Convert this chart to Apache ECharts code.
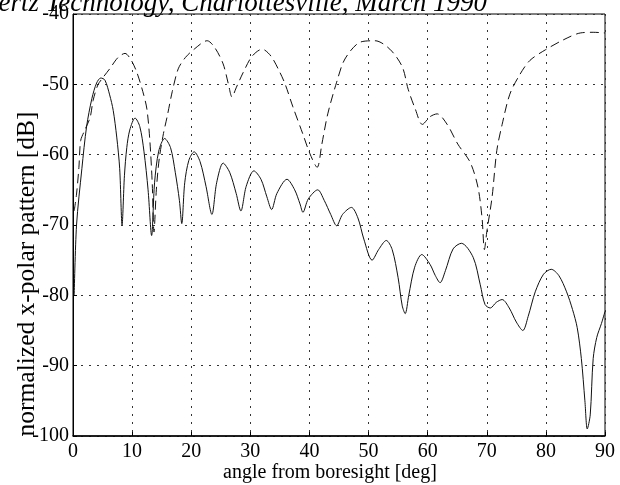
<!DOCTYPE html>
<html><head><meta charset="utf-8">
<script src="https://cdn.jsdelivr.net/npm/echarts@6/dist/echarts.min.js"></script>
<style>html,body{margin:0;padding:0;background:#fff}#c{width:620px;height:485px}</style>
</head><body><div id="c"></div>
<script>
// x-polar pattern, solid (lower) curve
const solidAngle = [0.2,0.6,1.5,2.3,3.2,4.0,4.7,5.4,6.2,6.8,7.4,7.9,8.3,8.7,9.1,9.6,10.5,11.3,12.0,12.7,13.3,13.8,14.5,15.5,16.5,17.3,18.0,18.4,18.9,19.6,20.5,21.5,22.5,23.5,24.3,25.4,26.5,27.6,28.4,29.3,30.6,31.8,32.8,33.6,34.5,36.2,37.5,38.4,38.9,39.8,41.4,42.5,43.6,44.6,45.6,47.1,48.2,49.2,50.6,51.7,53.0,54.0,55.0,55.7,56.2,56.8,57.8,59.0,60.4,61.3,62.1,63.0,64.3,65.7,67.7,68.9,69.7,70.6,71.6,72.6,73.8,75.0,76.1,77.0,78.2,79.6,80.9,82.2,83.5,84.5,85.3,86.0,86.6,87.0,87.5,88.0,88.6,89.4,90.0];
const solidDb = [-80,-70,-62,-56,-52,-49.8,-49.1,-49.4,-51.5,-53.7,-57.5,-62,-70,-63,-59,-56.5,-54.8,-56,-59.5,-65,-71.5,-64,-59.5,-57.7,-59,-62.5,-66.5,-69.8,-64,-60.8,-59.6,-61,-64.5,-68.5,-64,-61.2,-62.5,-65.5,-68,-64.5,-62.3,-63.5,-66,-67.8,-65.5,-63.5,-65,-67,-68.2,-66.3,-65,-66.5,-68.5,-70.1,-68.5,-67.5,-69,-72,-75,-73.5,-72.2,-73.5,-77.5,-81.5,-82.6,-80,-76,-74.2,-75.6,-77.2,-78.2,-76.5,-73.4,-72.6,-74.6,-78.5,-81.3,-81.8,-81,-80.6,-81.8,-83.8,-85,-83,-79.5,-77,-76.3,-77.2,-79.5,-82,-84.6,-89,-95,-99,-97,-89,-86,-84,-82.3];
// x-polar pattern, dashed (upper) curve
const dashedAngle = [0.2,0.6,1.0,1.3,2.0,2.9,3.4,4.2,5.1,6.2,7.6,8.8,9.8,10.8,11.8,12.5,13.0,13.4,13.7,14.1,14.6,15.3,15.9,16.8,17.8,19.0,20.5,22.7,24.0,25.4,26.3,26.9,27.6,28.8,30.3,32.0,33.5,35.0,35.9,37.2,38.9,40.1,41.3,42.1,43.1,44.6,46.0,48.6,51.1,53.6,55.7,56.7,57.9,59.1,60.4,61.6,63.3,65.1,67.2,68.5,69.2,69.6,70.0,70.9,71.7,72.6,73.9,75.6,77.3,79.9,82.9,85.8,88.0,90.0];
const dashedDb = [-68,-65.6,-61.8,-58,-56.5,-54.7,-52.3,-50.1,-49,-47.8,-46.2,-45.6,-46.5,-48.3,-51,-53.5,-58,-64,-71,-65,-60.5,-57,-54.7,-51,-47.8,-46.2,-45,-43.8,-44.8,-47.1,-50,-51.8,-50.5,-48.3,-46,-45,-46,-48.3,-50,-53.2,-57.1,-59.9,-61.8,-58.5,-54.2,-49.7,-46.4,-44,-43.8,-45,-47.5,-50.7,-53.5,-55.7,-54.6,-54.2,-55.7,-58.5,-61.1,-64.6,-69,-73.5,-71,-66,-59.4,-55.7,-51.4,-48.6,-46.6,-45.1,-43.7,-42.7,-42.6,-42.7];
const xMin = 0, xMax = 90, xStep = 10;
const yMin = -100, yMax = -40, yStep = 10;
const titleText = 'Hertz Technology, Charlottesville, March 1990';
const xName = 'angle from boresight [deg]';
const yName = 'normalized x-polar pattern [dB]';

const zip = (a, b) => a.map((v, i) => [v, b[i]]);
const serif = '"Liberation Serif", "Times New Roman", serif';
const chart = echarts.init(document.getElementById('c'), null, {renderer: 'canvas'});
const gridLine = {show: true, lineStyle: {color: '#333', width: 1, type: [2, 6]}};
chart.setOption({
  animation: false,
  backgroundColor: '#fff',
  grid: {left: 73, right: 15, top: 14, bottom: 49, show: true, borderColor: '#000', borderWidth: 1, backgroundColor: 'transparent'},
  xAxis: {
    type: 'value', min: xMin, max: xMax, interval: xStep,
    axisLine: {show: true, lineStyle: {color: '#000', width: 1.5}},
    axisTick: {show: true, inside: true, length: 4, lineStyle: {color: '#000'}},
    axisLabel: {color: '#000', fontFamily: serif, fontSize: 20, margin: 6},
    splitLine: gridLine
  },
  yAxis: {
    type: 'value', min: yMin, max: yMax, interval: yStep,
    axisLine: {show: true, lineStyle: {color: '#000', width: 1}},
    axisTick: {show: true, inside: true, length: 4, lineStyle: {color: '#000'}},
    axisLabel: {color: '#000', fontFamily: serif, fontSize: 20, margin: 4},
    splitLine: gridLine
  },
  graphic: [
    {type: 'text', left: -21, top: -10, style: {text: titleText, font: 'italic 27px ' + serif, fill: '#000'}},
    {type: 'text', x: 27, y: 274, rotation: Math.PI / 2, style: {text: yName, font: '25.5px ' + serif, fill: '#000', align: 'center', verticalAlign: 'middle'}},
    {type: 'text', x: 330, y: 473, style: {text: xName, font: '20px ' + serif, fill: '#000', align: 'center', verticalAlign: 'middle'}}
  ],
  series: [
    {type: 'line', data: zip(solidAngle, solidDb), showSymbol: false, smooth: 0.3, lineStyle: {color: '#111', width: 1}},
    {type: 'line', data: zip(dashedAngle, dashedDb), showSymbol: false, smooth: 0.3, lineStyle: {color: '#111', width: 1, type: [9, 5]}}
  ]
});
</script></body></html>
